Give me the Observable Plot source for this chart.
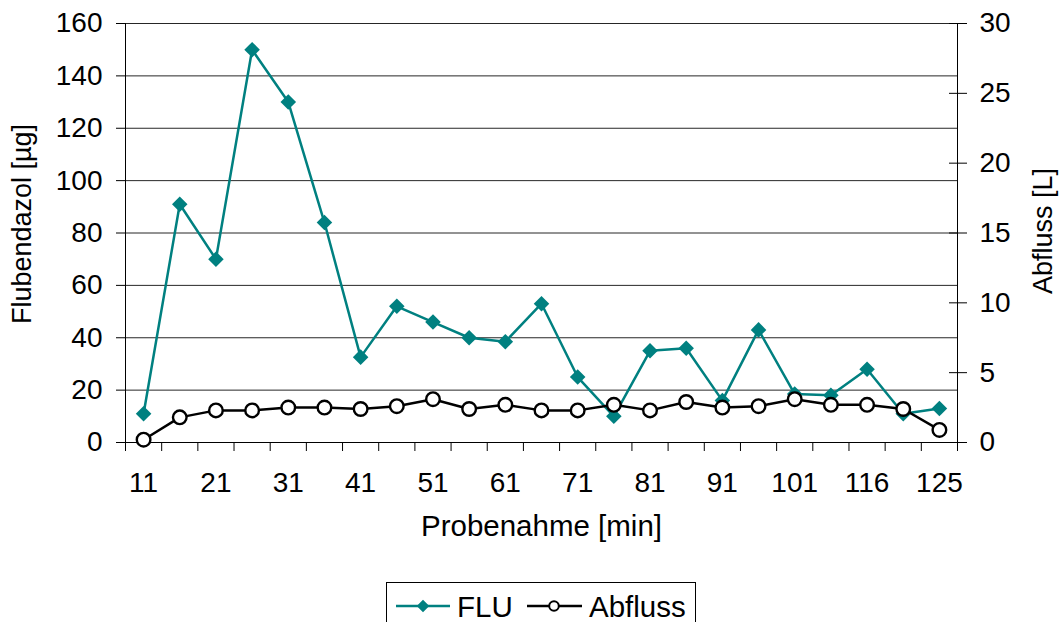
<!DOCTYPE html>
<html>
<head>
<meta charset="utf-8">
<script src="https://cdn.jsdelivr.net/npm/d3@7"></script>
<script src="https://cdn.jsdelivr.net/npm/@observablehq/plot@0.6"></script>
<style>
  body { margin: 0; background: #fff; font-family: "Liberation Sans", Arial, sans-serif; }
  #wrap { position: relative; width: 1061px; height: 622px; overflow: hidden; }
  #legend { position: absolute; left: 386px; top: 582px; width: 310px; height: 50px; border: 1px solid #000; box-sizing: border-box; }
  #legend svg { display: block; }
</style>
</head>
<body>
<div id="wrap"><div id="chart"></div><div id="legend"></div></div>
<script>
// Category labels (sampling time, min)
const labels = ["11","16","21","26","31","36","41","46","51","56","61","66","71","76","81","86","91","96","101","111","116","121","125"];
// Flubendazol [µg]
const flu = [11, 91, 70, 150, 130, 84, 32.6, 52, 46, 40, 38.5, 53, 25, 10, 35, 36, 16, 43, 18.5, 18, 28, 11, 13];
// Abfluss [L]
const abfluss = [0.2, 1.8, 2.3, 2.3, 2.5, 2.5, 2.4, 2.6, 3.1, 2.4, 2.7, 2.3, 2.3, 2.7, 2.3, 2.9, 2.5, 2.6, 3.1, 2.7, 2.7, 2.4, 0.9];
// Axis ticks
const leftTicks = [0, 20, 40, 60, 80, 100, 120, 140, 160];
const rightTicks = [0, 5, 10, 15, 20, 25, 30];
const leftMax = 160, rightMax = 30;

const k = leftMax / rightMax;
const fluData = flu.map((v, i) => ({i: i + 0.5, v}));
const abData = abfluss.map((v, i) => ({i: i + 0.5, v: v * k}));
const shownIdx = d3.range(0, labels.length, 2);

const tickFont = "28px";
const yTitleFont = "27px";
const xTitleFont = "29.5px";
const chart = Plot.plot({
  width: 1061,
  height: 580,
  marginLeft: 125,
  marginRight: 104,
  marginTop: 23,
  marginBottom: 138,
  x: {domain: [0, labels.length], axis: null},
  y: {domain: [0, leftMax], axis: null},
  style: {fontFamily: "'Liberation Sans', Arial, sans-serif", fontSize: tickFont, color: "#000", background: "#fff"},
  marks: [
    Plot.ruleY(leftTicks.filter(d => d > 0), {stroke: "#000", strokeWidth: 1, strokeOpacity: 0.85}),
    Plot.ruleY([0], {stroke: "#000"}),
    Plot.ruleX([0, labels.length], {stroke: "#000"}),
    Plot.axisY(leftTicks, {anchor: "left", tickSize: 9, tickPadding: 14, label: null, fontSize: tickFont}),
    Plot.axisY(rightTicks.map(d => d * k), {anchor: "right", tickSize: 9, tickPadding: 13, label: null, fontSize: tickFont, tickFormat: d => String(Math.round(d / k))}),
    Plot.axisY(rightTicks.map(d => d * k), {anchor: "right", tickSize: 9, dx: -9, label: null, tickFormat: () => ""}),
    Plot.axisX(d3.range(0, labels.length + 1), {anchor: "bottom", tickSize: 9, label: null, tickFormat: () => ""}),
    Plot.axisX(shownIdx.map(i => i + 0.5), {anchor: "bottom", tickSize: 0, tickPadding: 30, label: null, fontSize: tickFont, tickFormat: d => labels[Math.round(d - 0.5)]}),
    Plot.line(fluData, {x: "i", y: "v", stroke: "#008080", strokeWidth: 2.5}),
    Plot.dot(fluData, {x: "i", y: "v", symbol: "diamond2", fill: "#008080", stroke: "none", r: 7}),
    Plot.line(abData, {x: "i", y: "v", stroke: "#000", strokeWidth: 2.5}),
    Plot.dot(abData, {x: "i", y: "v", symbol: "circle", fill: "#fff", stroke: "#000", strokeWidth: 2.4, r: 6.8}),
    Plot.text(["Flubendazol [µg]"], {frameAnchor: "left", textAnchor: "middle", dx: -103, dy: -9, rotate: -90, fontSize: yTitleFont}),
    Plot.text(["Abfluss [L]"], {frameAnchor: "right", textAnchor: "middle", dx: 86, dy: -2, rotate: -90, fontSize: yTitleFont}),
    Plot.text(["Probenahme [min]"], {frameAnchor: "bottom", dy: 93, fontSize: xTitleFont})
  ]
});
document.getElementById("chart").appendChild(chart);

// Legend
const legendFont = "29.5px";
const lg = d3.select("#legend").append("svg").attr("width", 308).attr("height", 48)
  .style("font-family", "'Liberation Sans', Arial, sans-serif").style("font-size", legendFont);
const cy = 23;
lg.append("line").attr("x1", 9).attr("x2", 63).attr("y1", cy).attr("y2", cy).attr("stroke", "#008080").attr("stroke-width", 2.5);
lg.append("path").attr("d", d3.symbol(d3.symbolDiamond2, 100)()).attr("transform", `translate(36,${cy})`).attr("fill", "#008080");
lg.append("text").attr("x", 70).attr("y", cy).attr("dy", "0.36em").text("FLU");
lg.append("line").attr("x1", 140).attr("x2", 195).attr("y1", cy).attr("y2", cy).attr("stroke", "#000").attr("stroke-width", 2.5);
lg.append("circle").attr("cx", 167).attr("cy", cy).attr("r", 4.8).attr("fill", "#fff").attr("stroke", "#000").attr("stroke-width", 2);
lg.append("text").attr("x", 202).attr("y", cy).attr("dy", "0.36em").text("Abfluss");
</script>
</body>
</html>
